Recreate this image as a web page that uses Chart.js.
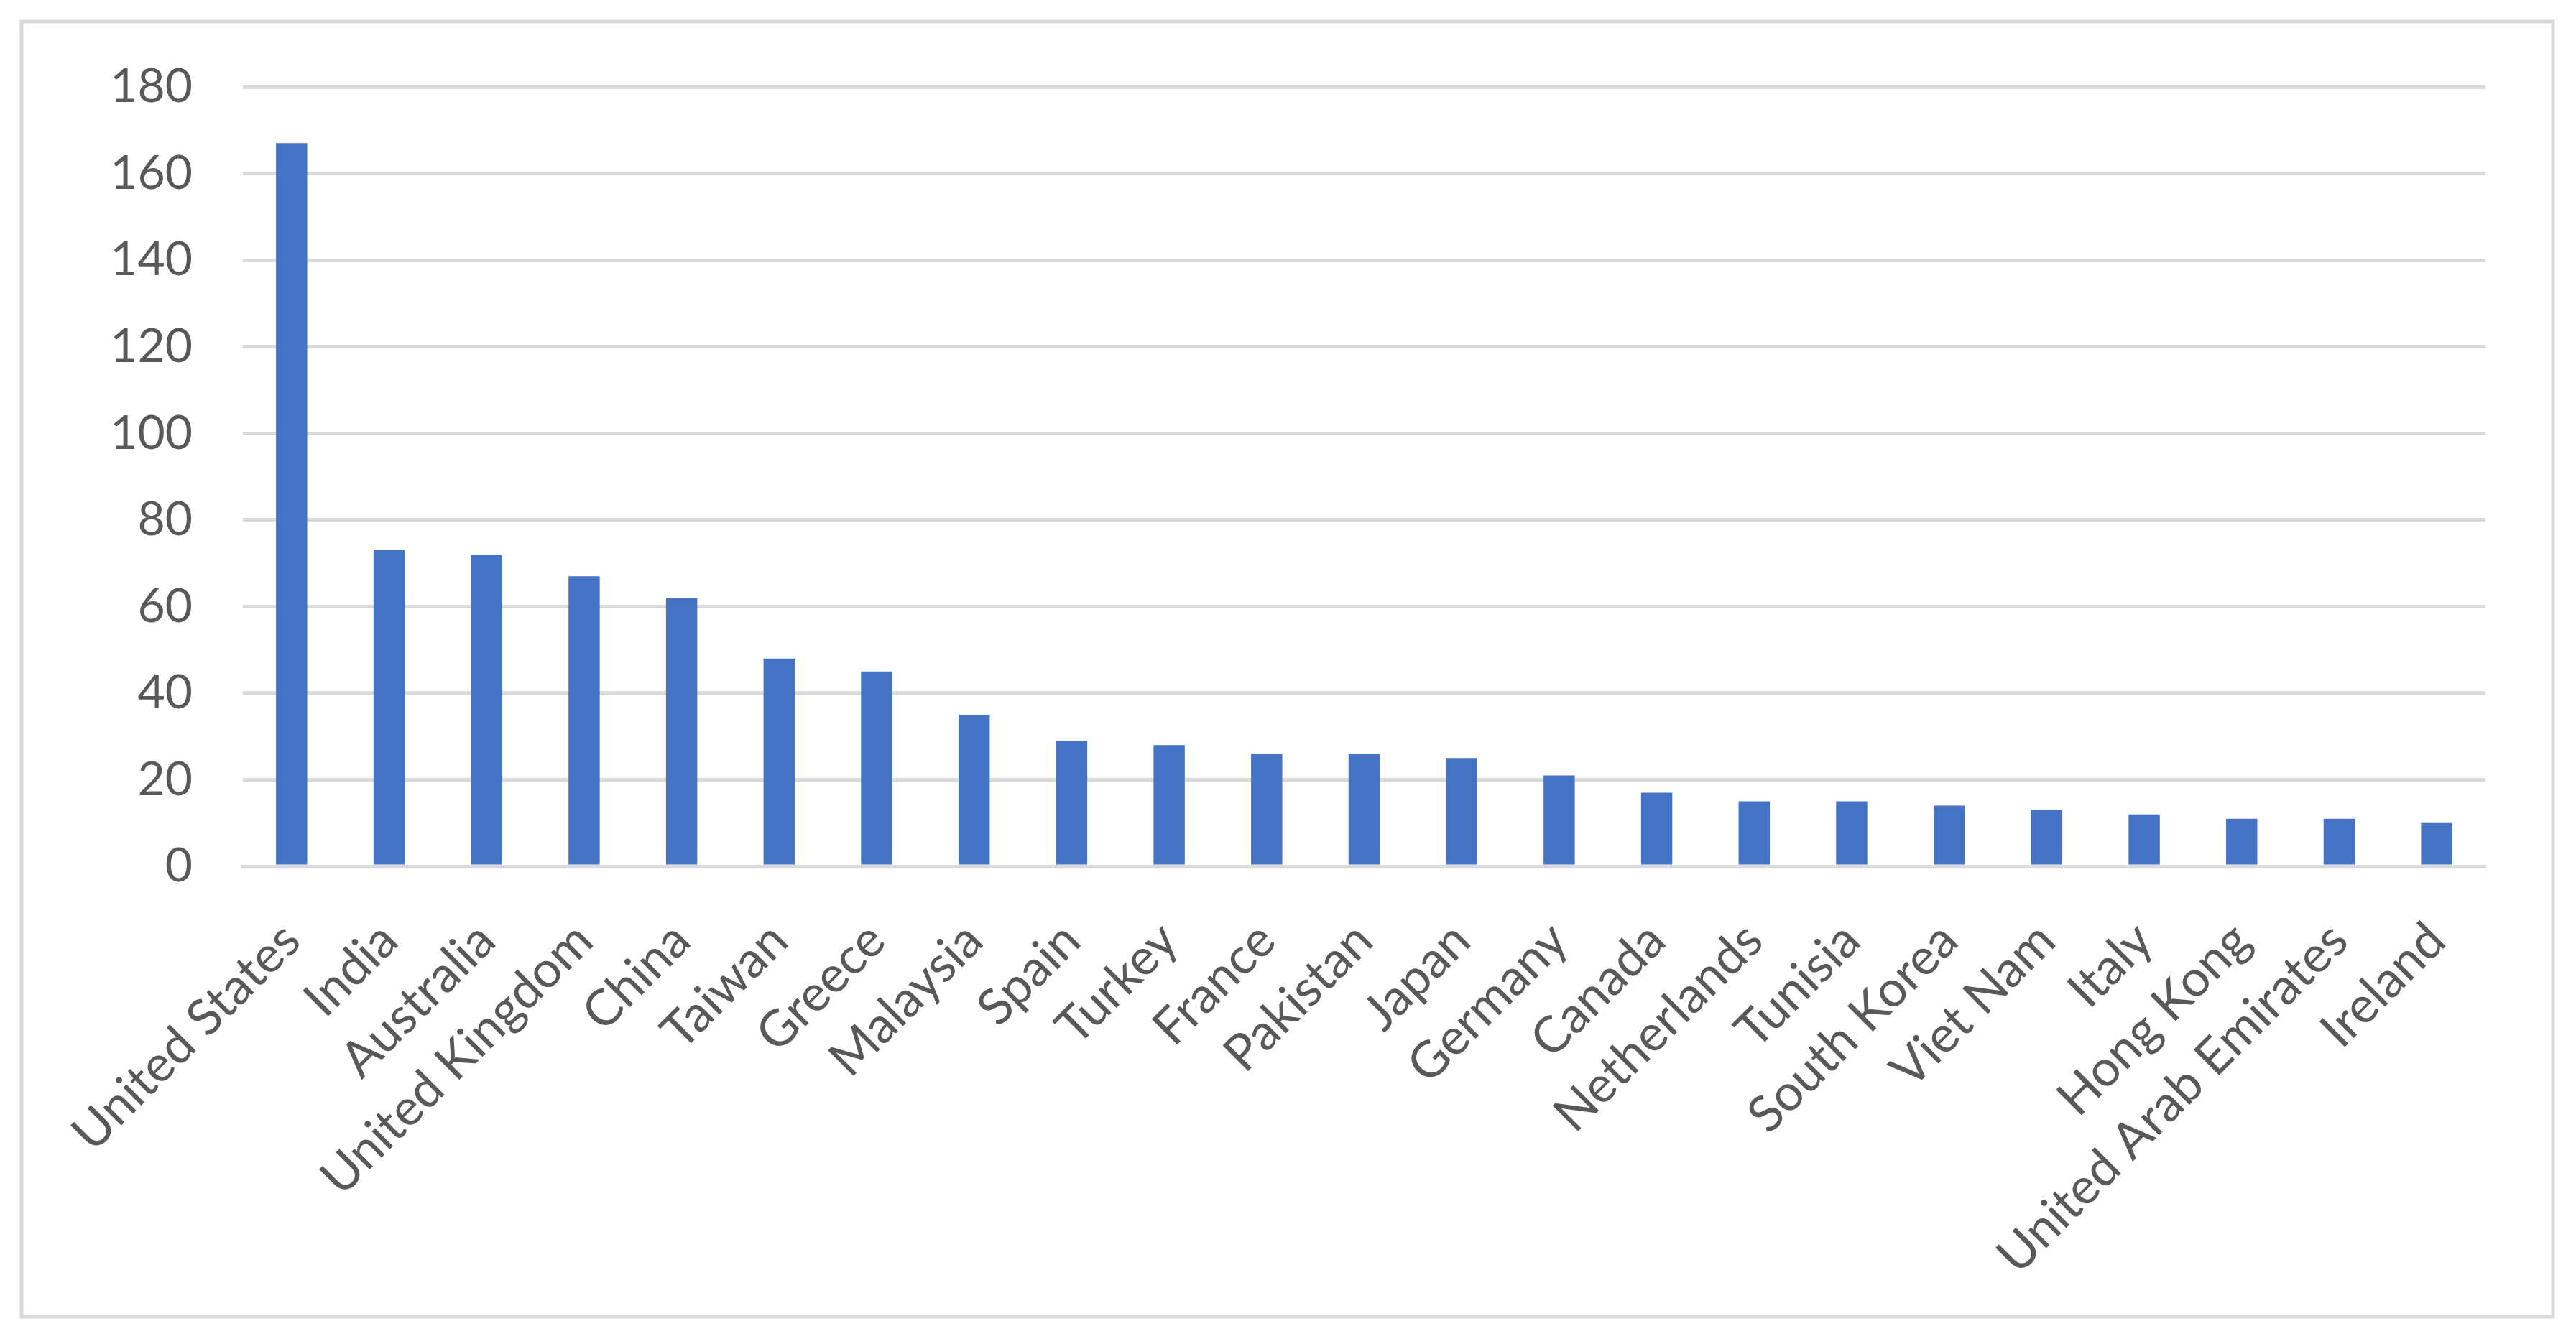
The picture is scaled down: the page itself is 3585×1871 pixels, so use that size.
<!DOCTYPE html>
<html>
<head>
<meta charset="utf-8">
<script src="https://cdn.jsdelivr.net/npm/chart.js@4"></script>
<style>
  html, body { margin: 0; padding: 0; background: #fff; }
  #wrap { width: 3585px; height: 1871px; }
</style>
</head>
<body>
<div id="wrap"><canvas id="countries"></canvas></div>
<script>
const countries = [
    'United States', 'India', 'Australia', 'United Kingdom', 'China', 'Taiwan',
    'Greece', 'Malaysia', 'Spain', 'Turkey', 'France', 'Pakistan', 'Japan',
    'Germany', 'Canada', 'Netherlands', 'Tunisia', 'South Korea', 'Viet Nam',
    'Italy', 'Hong Kong', 'United Arab Emirates', 'Ireland'
];

const counts = [167, 73, 72, 67, 62, 48, 45, 35, 29, 28, 26, 26, 25, 21, 17, 15, 15, 14, 13, 12, 11, 11, 10];

const yTicks = [0, 20, 40, 60, 80, 100, 120, 140, 160, 180];

// outer frame like the Excel chart area border
const frame = {
    id: 'frame',
    beforeDraw(chart) {
        const ctx = chart.ctx;
        ctx.save();
        ctx.fillStyle = '#ffffff';
        ctx.fillRect(0, 0, chart.width, chart.height);
        ctx.strokeStyle = '#d9d9d9';
        ctx.lineWidth = 5;
        ctx.strokeRect(30, 30, 3523, 1803);
        ctx.restore();
    }
};

const countryChart = document.getElementById('countries');

if (countryChart) {
    new Chart(countryChart, {
        type: 'bar',
        data: {
            labels: countries,
            datasets: [{
                data: counts,
                backgroundColor: '#4472c4',
                borderWidth: 0,
                categoryPercentage: 1,
                barPercentage: 0.32
            }]
        },
        options: {
            responsive: true,
            maintainAspectRatio: false,
            animation: false,
            layout: {
                padding: { left: 40, top: 121, right: 126, bottom: 40 }
            },
            plugins: {
                legend: { display: false },
                tooltip: { enabled: false }
            },
            scales: {
                x: {
                    grid: { display: false, drawTicks: false },
                    border: { display: true, color: '#d9d9d9', width: 5 },
                    ticks: {
                        color: '#595959',
                        font: { family: 'Lato', size: 70 },
                        maxRotation: 45,
                        minRotation: 45,
                        autoSkip: false,
                        padding: 62
                    },
                    afterFit(scale) {
                        scale.height = 1871 - 40 - 1206;
                        scale.paddingLeft = 0;
                        scale.paddingRight = 0;
                    }
                },
                y: {
                    min: 0,
                    max: 180,
                    afterBuildTicks(scale) {
                        scale.ticks = yTicks.map(v => ({ value: v }));
                    },
                    grid: { color: '#d9d9d9', lineWidth: 5, drawTicks: false },
                    border: { display: false },
                    ticks: {
                        color: '#595959',
                        font: { family: 'Lato', size: 66 },
                        padding: 70
                    },
                    afterFit(scale) {
                        scale.width = 338 - 40;
                        scale.paddingTop = 0;
                        scale.paddingBottom = 0;
                    }
                }
            }
        },
        plugins: [frame]
    });
}
</script>
</body>
</html>
